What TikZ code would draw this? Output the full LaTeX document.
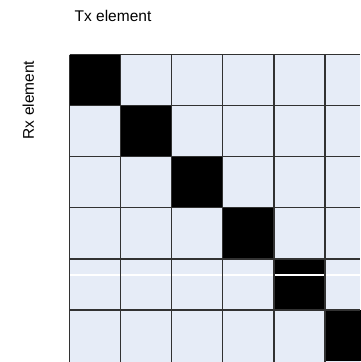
\documentclass[tikz,border=0pt]{standalone}
\usepackage{fontspec}
\setmainfont{Liberation Sans}
\definecolor{cellfill}{RGB}{230,236,247}
\definecolor{gridline}{RGB}{50,50,50}
\begin{document}
\begin{tikzpicture}[x=1pt,y=-1pt,
  lbl/.style={font=\fontsize{15.5}{18}\selectfont, inner sep=0pt},
  gridln/.style={draw=gridline, line width=1.2pt}]
\useasboundingbox (0,0) rectangle (360,362);
\def\xo{69.5}\def\yo{54.5}\def\pp{51.1}
% background fill of cells
\fill[cellfill] (\xo,\yo) rectangle (360,362);
% diagonal black cells
\foreach \i in {0,...,5}{
  \fill[black] ({\xo+\i*\pp},{\yo+\i*\pp}) rectangle ({\xo+(\i+1)*\pp},{\yo+(\i+1)*\pp});
}
% thin white artifact line
\draw[white, line width=1.2pt] (\xo,275) -- (360,275);
% grid lines
\foreach \i in {0,...,5}{
  \draw[gridln] ({\xo+\i*\pp},\yo) -- ({\xo+\i*\pp},362);
  \draw[gridln] (\xo,{\yo+\i*\pp}) -- (360,{\yo+\i*\pp});
}
\node[lbl, anchor=base] (tx) at (113,21.7) {Tx element};
\node[lbl, anchor=base, rotate=90] (rx) at (34,100) {Rx element};
\end{tikzpicture}
\end{document}
